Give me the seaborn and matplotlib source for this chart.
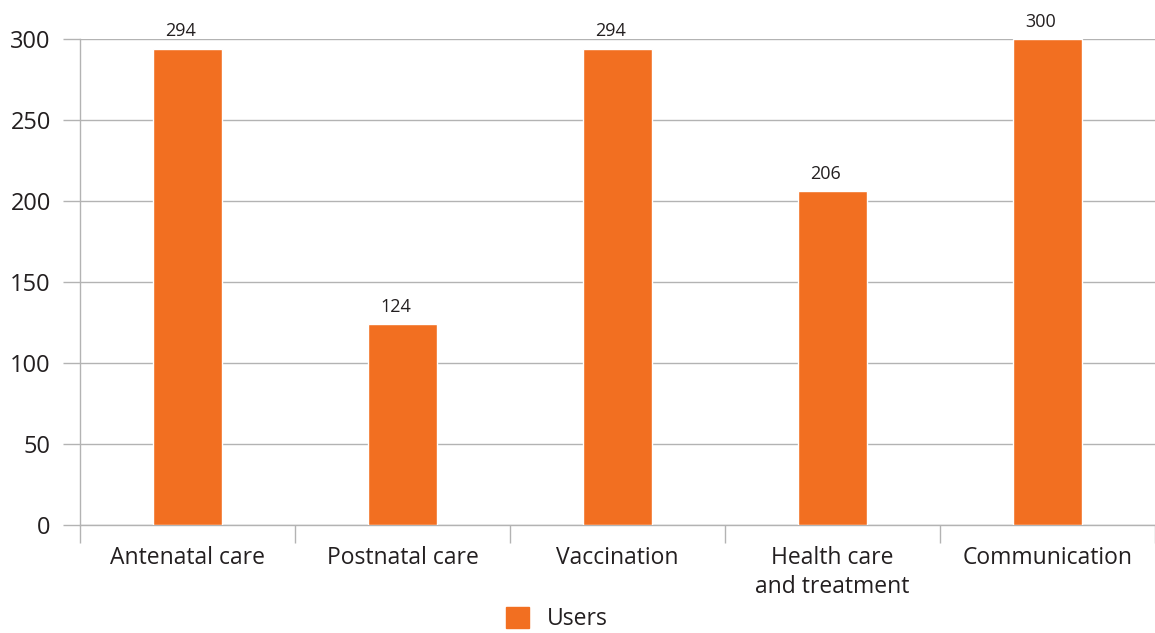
import matplotlib
matplotlib.use("Agg")
import matplotlib.pyplot as plt
import matplotlib.patches as mpatches
import seaborn as sns
import pandas as pd
import numpy as np

categories = ["Antenatal care", "Postnatal care", "Vaccination",
              "Health care\nand treatment", "Communication"]
users = [294, 124, 294, 206, 300]
y_ticks = [0, 50, 100, 150, 200, 250, 300]

bar_color = "#F26F21"
text_color = "#231F20"
grid_color = "#B3B3B3"

sns.set_theme(style="white")
plt.rcParams["font.family"] = ["Open Sans", "DejaVu Sans"]

df = pd.DataFrame({"category": categories, "users": users})

fig = plt.figure(figsize=(11.55, 6.33), dpi=100)
ax = fig.add_axes([80 / 1155, 108 / 633, (1155 - 80) / 1155, (525 - 39) / 633])

sns.barplot(data=df, x="category", y="users", color=bar_color,
            width=0.325, saturation=1, ax=ax, zorder=3)

ax.set_ylim(0, 300)
ax.set_xlim(-0.5, len(categories) - 0.5)
ax.set_yticks(y_ticks)
ax.set_yticklabels([str(v) for v in y_ticks], fontsize=17, color=text_color)
ax.yaxis.grid(True, color=grid_color, linewidth=1, zorder=0)
ax.set_axisbelow(True)
ax.tick_params(axis="y", length=12, color=grid_color, width=1, pad=9, left=True)

ax.set_xticks(range(len(categories)))
ax.set_xticklabels(categories, fontsize=16.5, color=text_color, linespacing=1.3)
ax.tick_params(axis="x", length=0, pad=15)
ax.set_xticks(np.arange(-0.5, len(categories), 1.0), minor=True)
ax.tick_params(axis="x", which="minor", length=13, color=grid_color, width=1, bottom=True)

ax.set_xlabel("")
ax.set_ylabel("")

for side in ["top", "right"]:
    ax.spines[side].set_visible(False)
for side in ["left", "bottom"]:
    ax.spines[side].set_color(grid_color)
    ax.spines[side].set_linewidth(1)

for i, v in enumerate(users):
    ax.annotate(str(v), (i, v), xytext=(-5, 6), textcoords="offset points",
                ha="center", va="bottom", fontsize=13, color=text_color,
                annotation_clip=False)

handle = mpatches.Patch(color=bar_color, label="Users")
fig.legend(handles=[handle], loc="center", bbox_to_anchor=(0.482, 0.022),
           frameon=False, fontsize=16.5, handlelength=1.0, handleheight=1.0,
           handletextpad=0.8, labelcolor=text_color)

fig.savefig("out.png", dpi=100)
